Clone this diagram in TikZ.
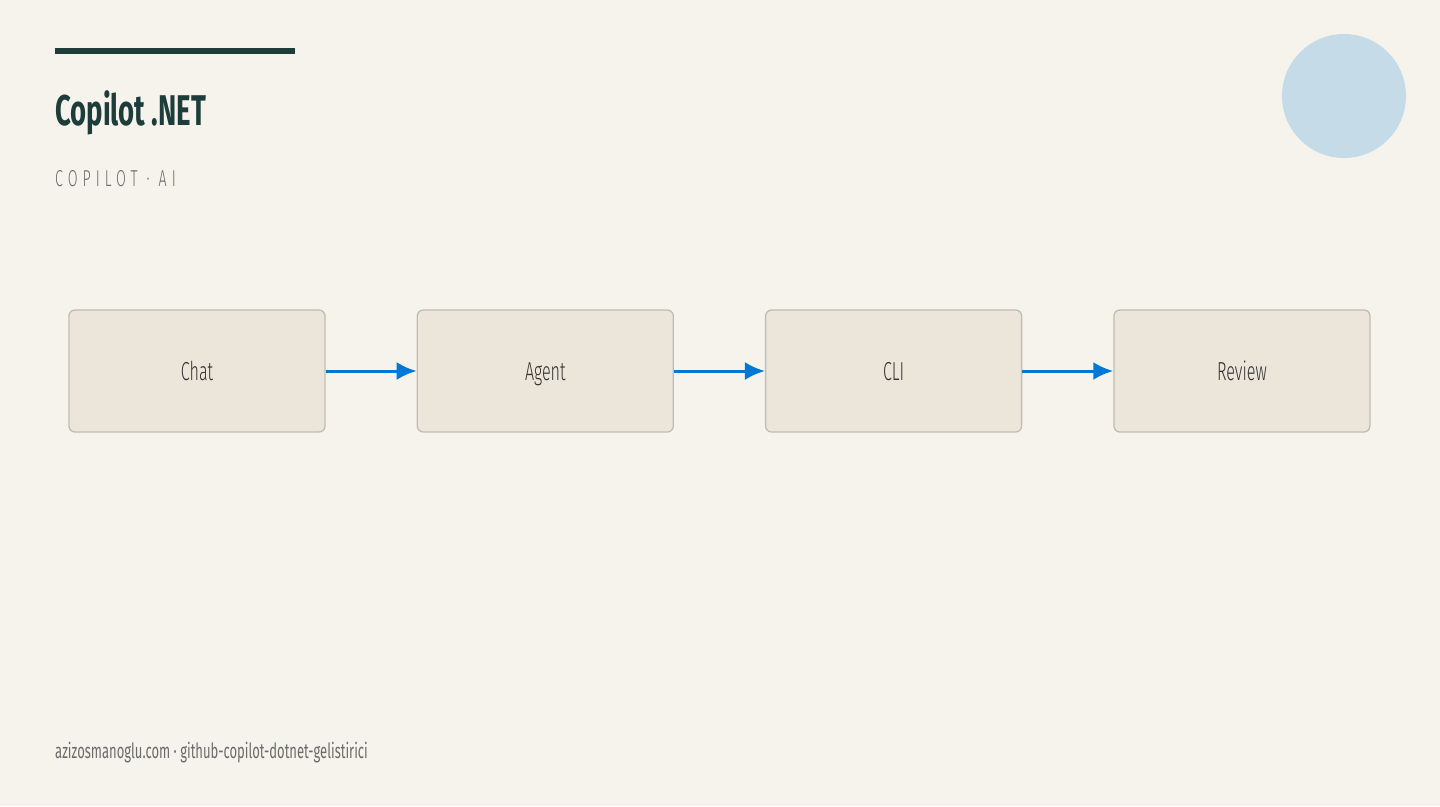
\documentclass[tikz,border=0pt]{standalone}
\usepackage{fontspec}
\setmainfont{Fira Sans}
\newfontfamily\headfont{Fira Sans}[FakeStretch=0.64]
\newfontfamily\subfont{Fira Sans Light}[FakeStretch=0.62,LetterSpace=22]
\newfontfamily\stagefont{Fira Sans Light}[FakeStretch=0.62]
\newfontfamily\footfont{Fira Sans}[FakeStretch=0.62]
\usepackage{xcolor}
\usepackage{tikz}
\usetikzlibrary{positioning,arrows.meta}

\definecolor{pagebg}{HTML}{F6F3ED}
\definecolor{boxfill}{HTML}{ECE6DA}
\definecolor{boxline}{HTML}{BEBEB5}
\definecolor{darkteal}{HTML}{1E3D3A}
\definecolor{flowblue}{HTML}{0078D4}
\definecolor{softblue}{HTML}{C5DCE8}
\definecolor{greytext}{HTML}{6B6B6B}

\begin{document}
\begin{tikzpicture}[x=1pt, y=-1pt, node distance=91pt,
		stage/.style={rectangle, rounded corners=6pt, draw=boxline, line width=1.3pt, fill=boxfill,
			minimum width=256pt, minimum height=122pt, text=black!80,
			text height=18pt, text depth=0pt,
			font=\stagefont\fontsize{26}{30}\selectfont},
		flow/.style={-{Latex[length=20pt,width=18pt]}, line width=3pt, draw=flowblue}]
		% Page
		\fill[pagebg] (0,0) rectangle (1440,806);
		\useasboundingbox (0,0) rectangle (1440,806);
		\fill[darkteal] (55,48) rectangle (295,54);
		\fill[softblue] (1344,96) circle (62pt);
		
		% Header
		\node [anchor=base west, inner sep=0pt, text=darkteal, font=\headfont\bfseries\fontsize{43}{48}\selectfont] (title) at (55,125) {Copilot .NET};
		\node [anchor=base west, inner sep=0pt, text=greytext, font=\subfont\fontsize{23}{26}\selectfont] (subtitle) at (55,186) {COPILOT · AI};
		
		% Nodes
		\node [stage] (chat) at (197,371) {Chat};
		\node [stage, right=91pt of chat] (agent) {Agent};
		\node [stage, right=91pt of agent] (cli) {CLI};
		\node [stage, right=91pt of cli] (review) {Review};
		
		% Arrows
		\draw [flow] (chat) -- (agent);
		\draw [flow] (agent) -- (cli);
		\draw [flow] (cli) -- (review);
		
		% Footer
		\node [anchor=base west, inner sep=0pt, text=greytext, font=\footfont\fontsize{21}{24}\selectfont] (footer) at (55,758) {azizosmanoglu.com · github-copilot-dotnet-gelistirici};
	\end{tikzpicture}
\end{document}
